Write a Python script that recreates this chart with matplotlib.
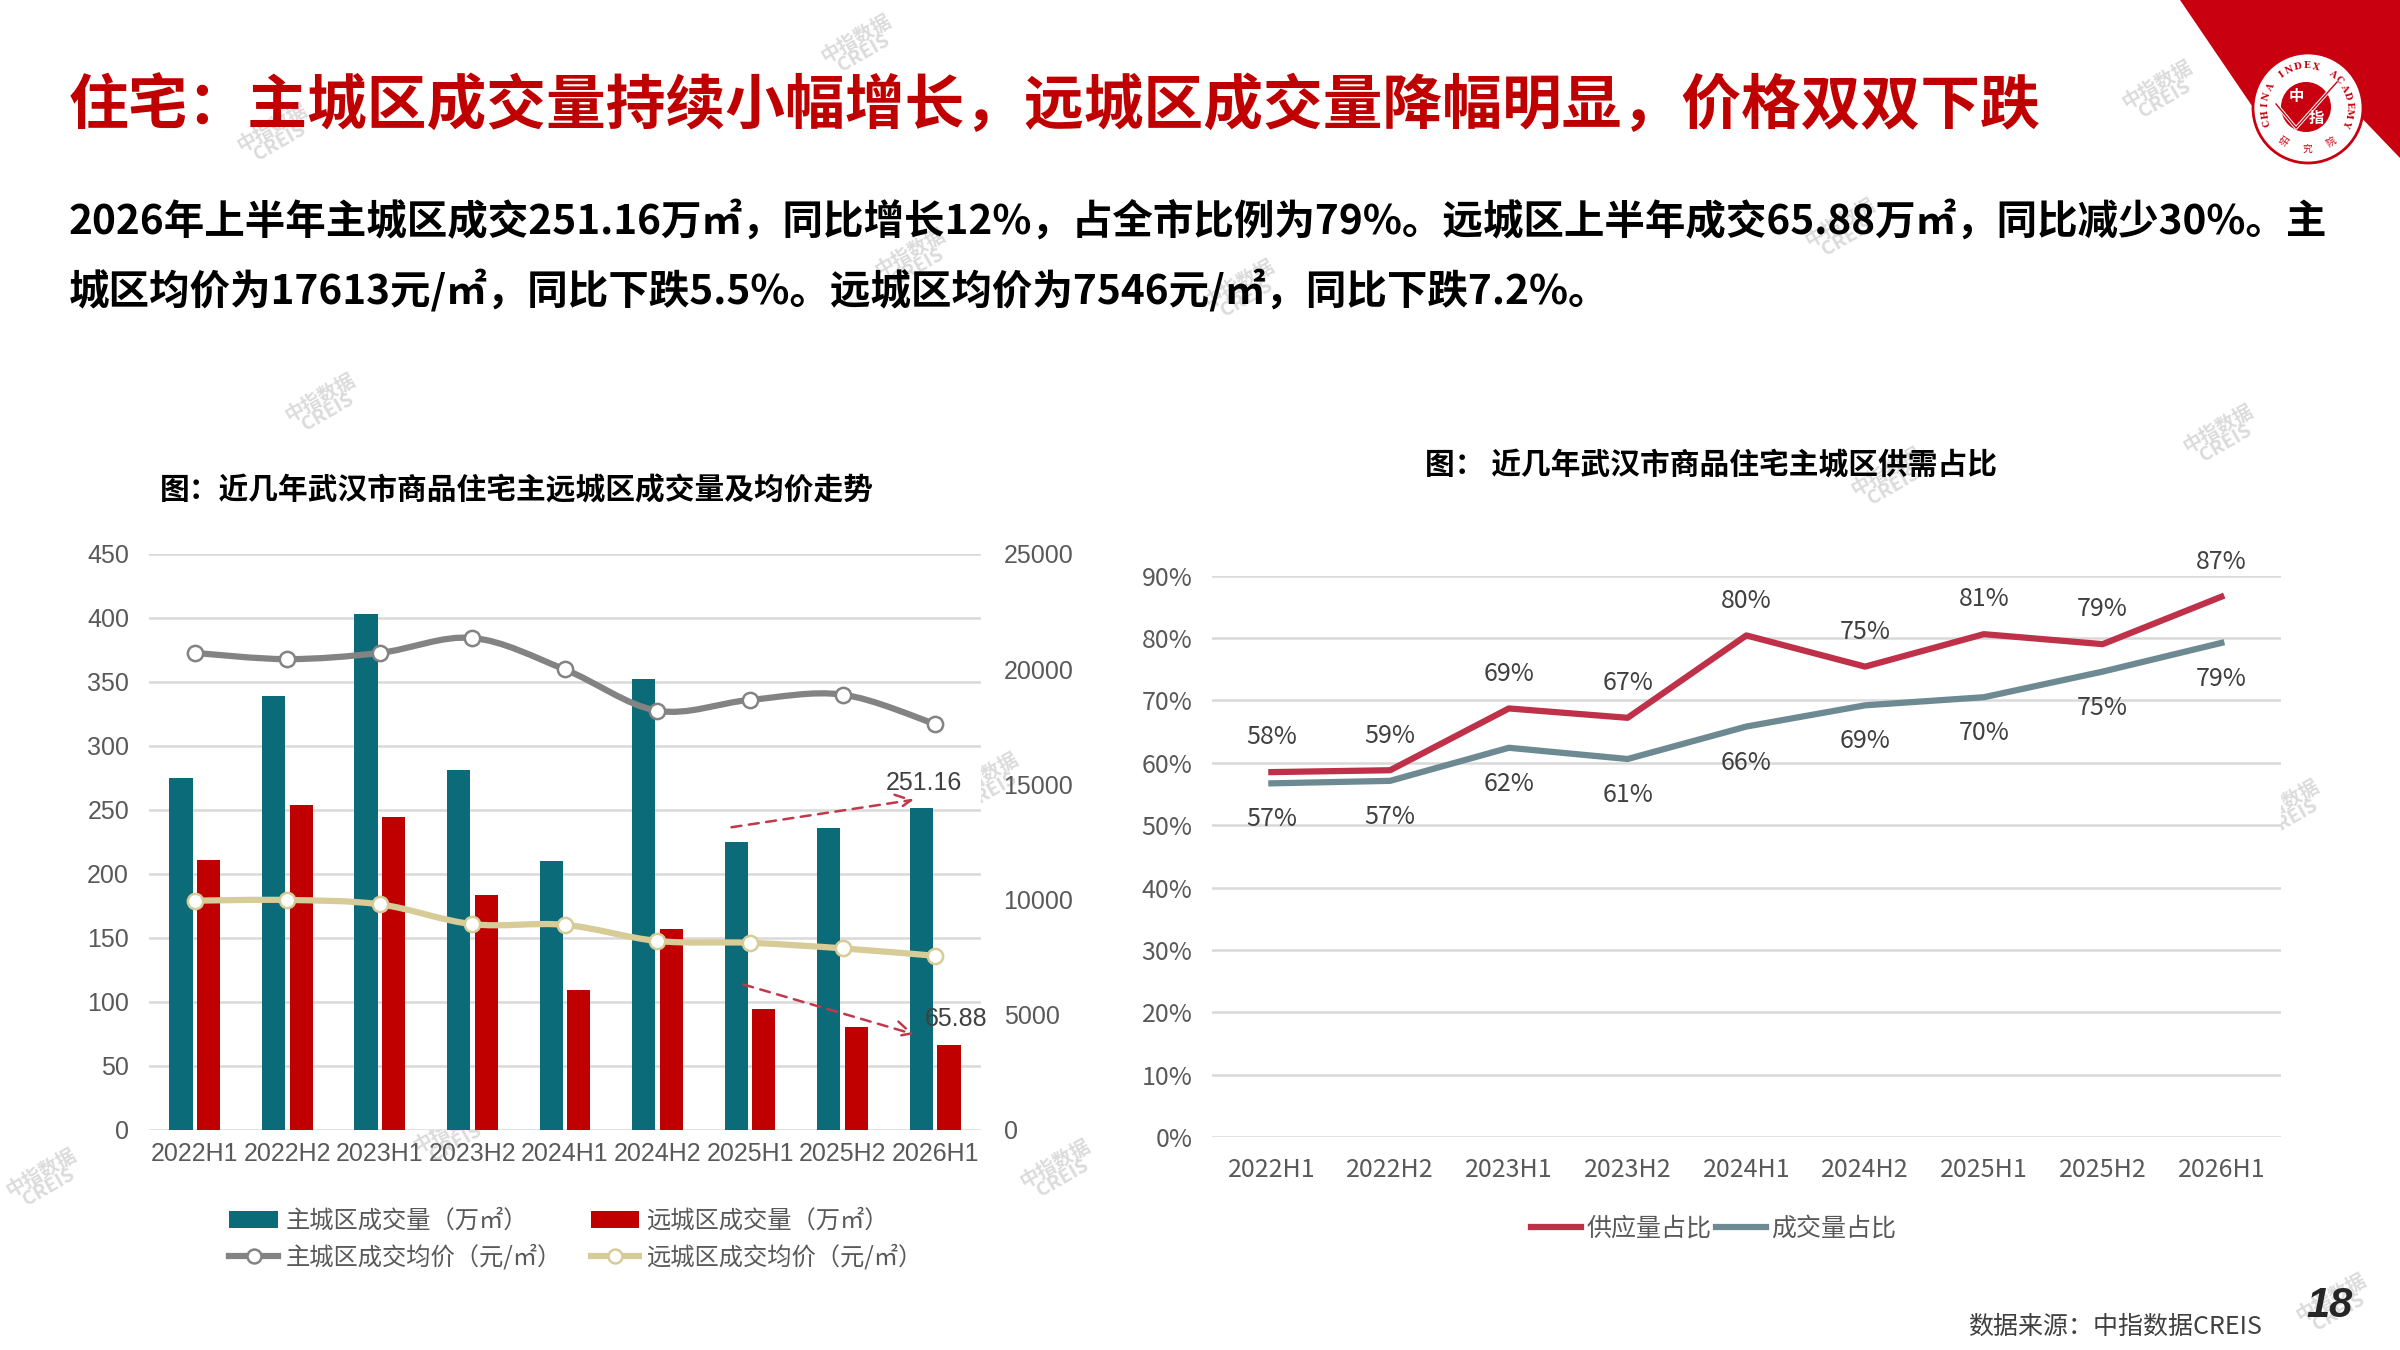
import matplotlib
matplotlib.use("Agg")
import numpy as np
import matplotlib.pyplot as plt
from matplotlib.path import Path
from matplotlib.patches import PathPatch, Patch, Polygon, Circle
from matplotlib.lines import Line2D

plt.rcParams['font.family'] = ['Noto Sans CJK SC', 'DejaVu Sans']

# --- data ---
periods = ["2022H1", "2022H2", "2023H1", "2023H2", "2024H1",
           "2024H2", "2025H1", "2025H2", "2026H1"]
main_volume = [275, 339, 403, 281, 210, 352, 225, 236, 251.16]
far_volume = [211, 254, 244, 183, 109, 157, 94, 80, 65.88]
main_price = [20700, 20430, 20700, 21350, 19980, 18190, 18660, 18890, 17613]
far_price = [9940, 9970, 9780, 8920, 8890, 8190, 8110, 7870, 7546]
supply_share = [58.5, 58.8, 68.7, 67.2, 80.4, 75.4, 80.6, 79.0, 86.6]
deal_share = [56.7, 57.1, 62.4, 60.6, 65.8, 69.2, 70.5, 74.6, 79.2]

title = "住宅：主城区成交量持续小幅增长，远城区成交量降幅明显，价格双双下跌"
summary_1 = "2026年上半年主城区成交251.16万㎡，同比增长12%，占全市比例为79%。远城区上半年成交65.88万㎡，同比减少30%。主"
summary_2 = "城区均价为17613元/㎡，同比下跌5.5%。远城区均价为7546元/㎡，同比下跌7.2%。"
left_title = "图：近几年武汉市商品住宅主远城区成交量及均价走势"
right_title = "图： 近几年武汉市商品住宅主城区供需占比"

TEAL = "#0B6B78"
DARK_RED = "#C00000"
GREY_LINE = "#838383"
TAN_LINE = "#D7CB98"
SUPPLY_RED = "#BE3148"
DEAL_GREY = "#6D8A93"
GRID = "#D9D9D9"
TICK = "#595959"
LATIN = ['Liberation Sans', 'Noto Sans CJK SC']

W, H = 2400, 1350


def fx(px):
    return px / W


def fy(py):
    return 1 - py / H


def smooth_path(xs, ys):
    """Catmull-Rom style cubic bezier through the points (like Excel smoothed lines)."""
    pts = np.column_stack([xs, ys]).astype(float)
    ext = np.vstack([pts[0], pts, pts[-1]])
    verts = [pts[0]]
    codes = [Path.MOVETO]
    for i in range(len(pts) - 1):
        p0, p1, p2, p3 = ext[i], ext[i + 1], ext[i + 2], ext[i + 3]
        verts += [p1 + (p2 - p0) / 6, p2 - (p3 - p1) / 6, p2]
        codes += [Path.CURVE4] * 3
    return Path(verts, codes)


fig = plt.figure(figsize=(24, 13.5), dpi=100)

# --- page decoration: background overlay in pixel space ---
deco = fig.add_axes([0, 0, 1, 1], zorder=-5)
deco.set_xlim(0, W)
deco.set_ylim(H, 0)
deco.axis("off")

watermarks = [(860, 46), (276, 135), (324, 405), (2161, 92), (2222, 436), (1890, 479),
              (1844, 230), (1243, 291), (914, 260), (387, 773), (987, 784), (1301, 689),
              (1947, 831), (2288, 811), (1367, 1067), (452, 1136), (1059, 1171),
              (45, 1180), (2335, 1305)]
for wx, wy in watermarks:
    deco.text(wx, wy, "中指数据\nCREIS", rotation=30, ha="center", va="center",
              fontsize=14, color="#C8C8C8", alpha=0.65, linespacing=0.85,
              fontweight="bold")

# logo in the top-right corner
overlay = fig.add_axes([0, 0, 1, 1], zorder=10)
overlay.set_xlim(0, W)
overlay.set_ylim(H, 0)
overlay.axis("off")
overlay.add_patch(Polygon([(2180, 0), (2400, 0), (2400, 158), (2330, 85), (2282, 150)],
                          closed=True, color="#C8000F", lw=0))
overlay.add_patch(Circle((2308, 108), 55, facecolor="white", edgecolor="#C8000F", lw=2))
overlay.add_patch(Circle((2306, 107), 25, facecolor="#C8000F", lw=0))
overlay.plot([2276, 2296, 2337], [104, 128, 82], color="white", lw=2.5)
overlay.plot([2276, 2296, 2337], [104, 128, 82], color="#C8000F", lw=1)
overlay.text(2296, 96, "中", color="white", fontsize=11, fontweight="bold",
             ha="center", va="center")
overlay.text(2316, 118, "指", color="white", fontsize=11, fontweight="bold",
             ha="center", va="center")
ring = "CHINA INDEX ACADEMY"
angles = np.linspace(200, -20, len(ring))
for ch, ang in zip(ring, angles):
    a = np.deg2rad(ang)
    overlay.text(2307 + 42 * np.cos(a), 108 - 42 * np.sin(a), ch, fontsize=6.5,
                 color="#C8000F", fontweight="bold", family="DejaVu Serif",
                 rotation=ang - 90, ha="center", va="center")
for ch, ang in zip("研究院", [235, 270, 305]):
    a = np.deg2rad(ang)
    overlay.text(2307 + 41 * np.cos(a), 108 - 41 * np.sin(a), ch, fontsize=7,
                 color="#C8000F", rotation=ang + 90, ha="center", va="center")

# --- headline texts ---
fig.text(fx(69), fy(107), title, fontsize=43, fontweight="heavy", color=DARK_RED,
         ha="left", va="center")
fig.text(fx(69), fy(222), summary_1, fontsize=29.2, fontweight="bold", color="black",
         ha="left", va="center")
fig.text(fx(69), fy(291), summary_2, fontsize=29.2, fontweight="bold", color="black",
         ha="left", va="center")
fig.text(fx(517), fy(490), left_title, fontsize=21.4, fontweight="bold", color="black",
         ha="center", va="center")
fig.text(fx(1711), fy(465), right_title, fontsize=21.4, fontweight="bold", color="black",
         ha="center", va="center")
fig.text(fx(2262), fy(1327), "数据来源：中指数据CREIS", fontsize=18, color="#404040",
         ha="right", va="center")
fig.text(fx(2329), fy(1306), "18", fontsize=30, fontweight="bold", style="italic",
         color="#262626", ha="center", va="center", family=LATIN)

# --- left chart: volumes (bars) and prices (smoothed lines) ---
x = np.arange(len(periods))
ax1 = fig.add_axes([0.0619, 0.1633, 0.347, 0.4264])
ax1.bar(x - 0.15, main_volume, width=0.25, color=TEAL, zorder=2)
ax1.bar(x + 0.15, far_volume, width=0.25, color=DARK_RED, zorder=2)
ax1.set_xlim(-0.5, len(periods) - 0.5)
ax1.set_ylim(0, 450)
ax1.set_yticks(range(0, 451, 50))
ax1.set_xticks(x)
ax1.set_xticklabels(periods)
ax1.grid(axis="y", color=GRID, lw=1.8, zorder=0)
ax1.set_axisbelow(True)
for s in ax1.spines.values():
    s.set_visible(False)
ax1.tick_params(axis="y", length=0, labelsize=18, labelcolor=TICK, pad=14)
ax1.tick_params(axis="x", length=0, labelsize=18, labelcolor=TICK, pad=9)
for lab in ax1.get_xticklabels() + ax1.get_yticklabels():
    lab.set_family(LATIN)

ax1r = ax1.twinx()
ax1r.set_ylim(0, 25000)
ax1r.set_yticks(range(0, 25001, 5000))
for s in ax1r.spines.values():
    s.set_visible(False)
ax1r.tick_params(axis="y", length=0, labelsize=18, labelcolor=TICK, pad=16)
for lab in ax1r.get_yticklabels():
    lab.set_family(LATIN)

ax1r.add_patch(PathPatch(smooth_path(x, main_price), fill=False, edgecolor=GREY_LINE,
                         lw=4.5, capstyle="round", zorder=3))
ax1r.add_patch(PathPatch(smooth_path(x, far_price), fill=False, edgecolor=TAN_LINE,
                         lw=4.5, capstyle="round", zorder=3))
ax1r.plot(x, main_price, ls="none", marker="o", ms=11, mfc="white", mec=GREY_LINE,
          mew=1.8, zorder=4)
ax1r.plot(x, far_price, ls="none", marker="o", ms=11, mfc="white", mec=TAN_LINE,
          mew=1.8, zorder=4)

# latest values and trend arrows
ax1r.set_zorder(ax1.get_zorder() + 1)
arrow_style = dict(arrowstyle="->", ls=(0, (4, 3)), color="#C0394B", lw=1.8,
                   mutation_scale=28)
ax1.annotate("", xy=(x[-1] - 0.2, main_volume[-1] + 7),
             xytext=(x[6] - 0.23, main_volume[6] + 11), arrowprops=arrow_style,
             zorder=5)
ax1.annotate("", xy=(x[-1] - 0.2, far_volume[-1] + 8),
             xytext=(x[6] - 0.1, far_volume[6] + 20), arrowprops=arrow_style,
             zorder=5)
ax1.annotate(f"{main_volume[-1]:.2f}", xy=(x[-1] - 0.15, main_volume[-1]),
             xytext=(2, 18), textcoords="offset points", ha="center", va="center",
             fontsize=18, color="#404040", family=LATIN)
ax1.annotate(f"{far_volume[-1]:.2f}", xy=(x[-1] + 0.15, far_volume[-1]),
             xytext=(5, 19), textcoords="offset points", ha="center", va="center",
             fontsize=18, color="#404040", family=LATIN)

left_handles = [
    Patch(facecolor=TEAL, label="主城区成交量（万㎡）"),
    Line2D([], [], color=GREY_LINE, lw=4.5, marker="o", ms=10, mfc="white",
           mec=GREY_LINE, mew=1.8, label="主城区成交均价（元/㎡）"),
    Patch(facecolor=DARK_RED, label="远城区成交量（万㎡）"),
    Line2D([], [], color=TAN_LINE, lw=4.5, marker="o", ms=10, mfc="white",
           mec=TAN_LINE, mew=1.8, label="远城区成交均价（元/㎡）"),
]
leg1 = fig.legend(handles=left_handles, loc="center", bbox_to_anchor=(fx(576), fy(1239)),
                  ncol=2, frameon=False, fontsize=17.5, handlelength=2.0,
                  handleheight=0.7, handletextpad=0.3, columnspacing=1.2,
                  labelspacing=0.45)
for t in leg1.get_texts():
    t.set_color(TICK)

# --- right chart: supply / deal share ---
ax2 = fig.add_axes([0.505, 0.1576, 0.4453, 0.4161])
ax2.plot(x, supply_share, color=SUPPLY_RED, lw=4.5, label="供应量占比", zorder=3)
ax2.plot(x, deal_share, color=DEAL_GREY, lw=4.5, label="成交量占比", zorder=3)
ax2.set_xlim(-0.5, len(periods) - 0.5)
ax2.set_ylim(0, 90)
ax2.set_yticks(range(0, 91, 10))
ax2.set_yticklabels([f"{v}%" for v in range(0, 91, 10)])
ax2.set_xticks(x)
ax2.set_xticklabels(periods)
ax2.grid(axis="y", color=GRID, lw=1.8, zorder=0)
ax2.set_axisbelow(True)
for s in ax2.spines.values():
    s.set_visible(False)
ax2.tick_params(axis="y", length=0, labelsize=18, labelcolor=TICK, pad=14)
ax2.tick_params(axis="x", length=0, labelsize=18, labelcolor=TICK, pad=14)

for xi, v in zip(x, supply_share):
    ax2.annotate(f"{v:.0f}%", xy=(xi, v), xytext=(0, 25), textcoords="offset points",
                 ha="center", va="center", fontsize=18, color="#404040")
for xi, v in zip(x, deal_share):
    ax2.annotate(f"{v:.0f}%", xy=(xi, v), xytext=(0, -26), textcoords="offset points",
                 ha="center", va="center", fontsize=18, color="#404040")

leg2 = fig.legend(handles=ax2.get_lines(), loc="center",
                  bbox_to_anchor=(fx(1714), fy(1229)), ncol=2, frameon=False,
                  fontsize=18, handlelength=2.0, handletextpad=0.2,
                  columnspacing=0.2)
for t in leg2.get_texts():
    t.set_color(TICK)

fig.savefig("out.png", dpi=100)
